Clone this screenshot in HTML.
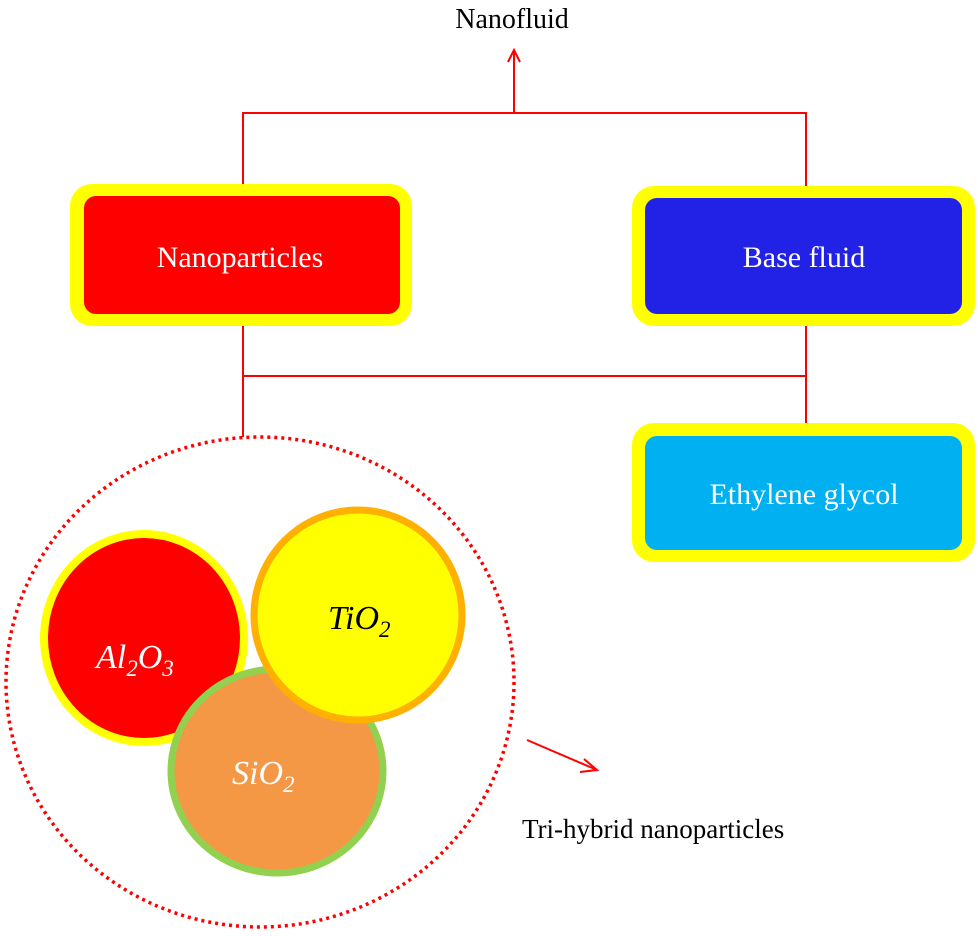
<!DOCTYPE html>
<html><head><meta charset="utf-8"><style>
body{margin:0;background:#fff;}
svg{display:block}
.t{font-family:"Liberation Serif",serif;}
.m{font-family:"Liberation Serif",serif;font-style:italic;}
</style></head><body>
<svg width="978" height="936" viewBox="0 0 978 936" xmlns="http://www.w3.org/2000/svg">
<text x="512" y="28" text-anchor="middle" class="t" font-size="28" fill="#000">Nanofluid</text>
<g stroke="#f00" stroke-width="2" fill="none">
<line x1="514" y1="50" x2="514" y2="113"/>
<polyline points="508,62 514,50 520,62"/>
<polyline points="243,186 243,113 806,113 806,186"/>
<line x1="243" y1="320" x2="243" y2="437"/>
<line x1="243" y1="376" x2="806" y2="376"/>
<line x1="806" y1="320" x2="806" y2="437"/>
<line x1="527" y1="740" x2="597" y2="770"/>
<polyline points="584,759 597,770 580,772"/>
</g>
<rect x="70" y="184" width="342" height="142" rx="22" fill="#ffff00"/>
<rect x="84" y="196" width="316" height="118" rx="12" fill="#ff0000"/>
<text x="240" y="267" text-anchor="middle" class="t" font-size="30" fill="#fff">Nanoparticles</text>
<rect x="632" y="186" width="343" height="140" rx="22" fill="#ffff00"/>
<rect x="645" y="198" width="317" height="116" rx="12" fill="#2222e6"/>
<text x="804" y="267" text-anchor="middle" class="t" font-size="30" fill="#fff">Base fluid</text>
<rect x="632" y="423" width="343" height="139" rx="22" fill="#ffff00"/>
<rect x="645" y="436" width="317" height="114" rx="12" fill="#00b0f0"/>
<text x="804" y="504" text-anchor="middle" class="t" font-size="30" fill="#fff">Ethylene glycol</text>
<ellipse cx="260" cy="682" rx="254" ry="245" fill="none" stroke="#f00" stroke-width="3.5" stroke-dasharray="3 4"/>
<ellipse cx="144" cy="638" rx="100" ry="104" fill="#f00" stroke="#ffff00" stroke-width="8"/>
<ellipse cx="277" cy="771" rx="106" ry="102" fill="#f59846" stroke="#92d050" stroke-width="7"/>
<ellipse cx="358" cy="615" rx="104" ry="105" fill="#ffff00" stroke="#ffb000" stroke-width="7"/>
<text x="96" y="668" class="m" font-size="34" fill="#fff">Al<tspan font-size="23" dy="8">2</tspan><tspan dy="-8">O</tspan><tspan font-size="23" dy="8">3</tspan></text>
<text x="328" y="629" class="m" font-size="34" fill="#000">TiO<tspan font-size="23" dy="8">2</tspan></text>
<text x="232" y="784" class="m" font-size="34" fill="#fff">SiO<tspan font-size="23" dy="8">2</tspan></text>
<text x="522" y="838" class="t" font-size="27" fill="#000">Tri-hybrid nanoparticles</text>
</svg>
</body></html>
